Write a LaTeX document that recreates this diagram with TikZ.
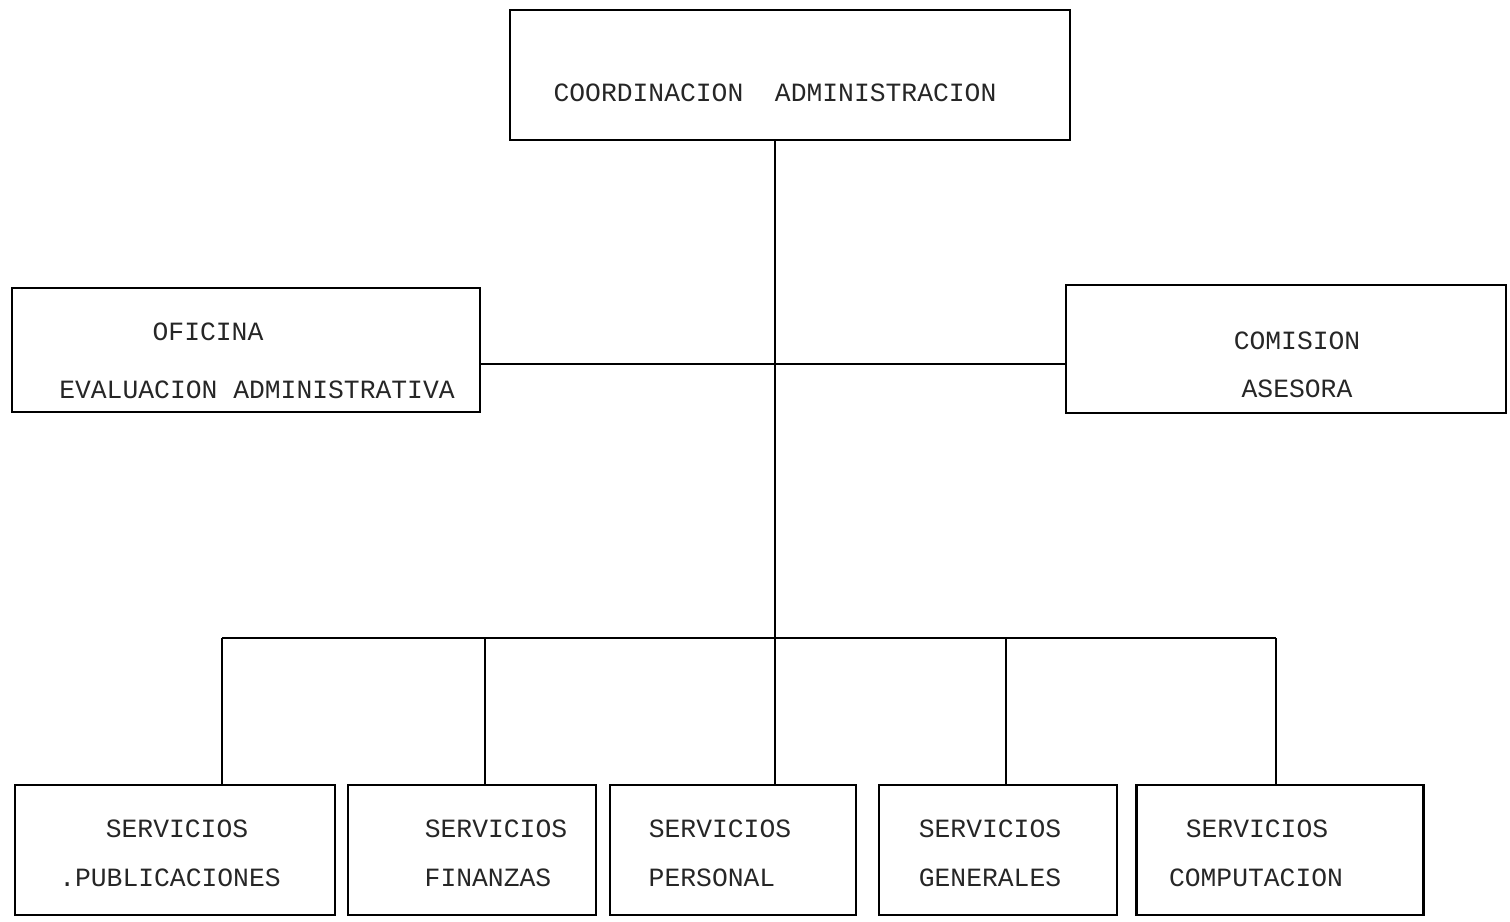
\documentclass[tikz,border=0pt]{standalone}
\usepackage{fontspec}
\setmonofont{Liberation Mono}
\usetikzlibrary{calc}

\begin{document}
\begin{tikzpicture}[x=0.02cm,y=-0.02cm,
  unit/.style={draw,line width=1.2pt,inner sep=0pt},
  lbl/.style={font=\ttfamily\fontsize{15}{17}\selectfont,text=black!85,inner sep=0pt},
  link/.style={line width=1.2pt}]

\useasboundingbox (0,0) rectangle (1510,921);

% top
\node[unit,minimum width=11.2cm,minimum height=2.6cm] (coord) at (790,75) {};
\node[lbl] (coordtxt) at (775,93) {COORDINACION\ \ ADMINISTRACION};

% staff units
\node[unit,minimum width=9.36cm,minimum height=2.48cm] (ofi) at (246,350) {};
\node[lbl] (ofi1) at (208,332) {OFICINA};
\node[lbl] (ofi2) at (257,390) {EVALUACION ADMINISTRATIVA};

\node[unit,minimum width=8.8cm,minimum height=2.56cm] (com) at (1286,349) {};
\node[lbl] (com1) at (1297,341) {COMISION};
\node[lbl] (com2) at (1297,389) {ASESORA};

% services
\node[unit,minimum width=6.4cm,minimum height=2.6cm] (pub) at (175,850) {};
\node[lbl] (pub1) at (177,829) {SERVICIOS};
\node[lbl] (pub2) at (170,878) {.PUBLICACIONES};

\node[unit,minimum width=4.96cm,minimum height=2.6cm] (fin) at (472,850) {};
\node[lbl] (fin1) at (496,829) {SERVICIOS};
\node[lbl] (fin2) at (488,878) {FINANZAS};

\node[unit,minimum width=4.92cm,minimum height=2.6cm] (per) at (733,850) {};
\node[lbl] (per1) at (720,829) {SERVICIOS};
\node[lbl] (per2) at (712,878) {PERSONAL};

\node[unit,minimum width=4.76cm,minimum height=2.6cm] (gen) at (998,850) {};
\node[lbl] (gen1) at (990,829) {SERVICIOS};
\node[lbl] (gen2) at (990,878) {GENERALES};

\node[unit,minimum width=5.74cm,minimum height=2.6cm] (comp) at (1280,850) {};
\node[lbl] (comp1) at (1257,829) {SERVICIOS};
\node[lbl] (comp2) at (1256,878) {COMPUTACION};

% junctions
\coordinate (mid) at (775,364);
\coordinate (b1) at (222,638);
\coordinate (b2) at (485,638);
\coordinate (b3) at (775,638);
\coordinate (b4) at (1006,638);
\coordinate (b5) at (1276,638);

\draw[link] (coord.south -| b3) -- (b3);
\draw[link] (ofi.east |- mid) -- (com.west |- mid);
\draw[link] (b1) -- (b5);
\foreach \b/\u in {b1/pub,b2/fin,b3/per,b4/gen,b5/comp}
  \draw[link] (\b) -- (\b |- \u.north);

\end{tikzpicture}
\end{document}
